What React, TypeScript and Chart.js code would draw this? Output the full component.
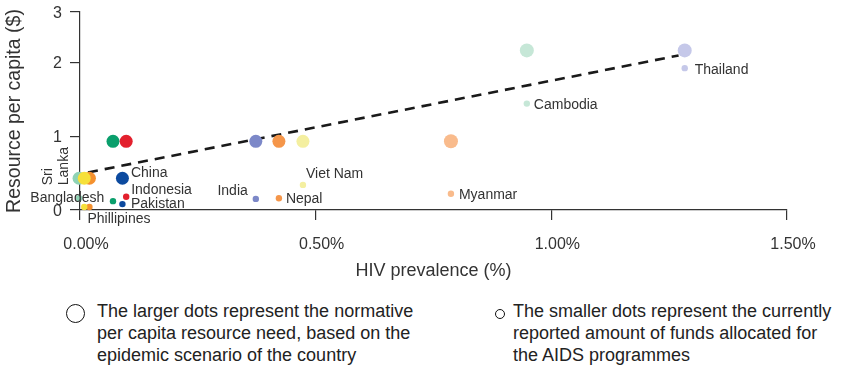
import React, { useEffect, useRef } from "react";
import { Chart, registerables } from "chart.js";

Chart.register(...registerables);

// ---------- data ----------
const COUNTRIES = [
  "Sri Lanka", "Phillipines", "Bangladesh", "China", "Pakistan", "Indonesia",
  "India", "Nepal", "Viet Nam", "Myanmar", "Cambodia", "Thailand",
];
// HIV prevalence (%)
const PREVALENCE = [-0.002, 0.02, 0.009, 0.09, 0.07, 0.098, 0.373, 0.422, 0.473, 0.787, 0.948, 1.283];
// normative per capita resource need ($) - larger dots
const NEED = [0.43, 0.43, 0.43, 0.43, 0.93, 0.93, 0.93, 0.93, 0.93, 0.93, 2.16, 2.16];
// currently reported funds per capita ($) - smaller dots
const FUNDS = [0.16, 0.04, 0.04, 0.08, 0.12, 0.18, 0.15, 0.16, 0.34, 0.22, 1.44, 1.92];

const X_TICK_VALUES = [0, 0.5, 1.0, 1.5];
const X_TICK_LABELS = ["0.00%", "0.50%", "1.00%", "1.50%"];
const Y_AXIS_TOP = 2.68; // top of the drawn axis, labelled "3" in the source
const Y_TICK_VALUES = [0, 1, 2, Y_AXIS_TOP];
const Y_TICK_LABELS = ["0", "1", "2", "3"];
const TREND_X_RANGE = [0.017, 1.27];

// ---------- styles ----------
const COLORS = [
  "#8fd3b5", "#f5912f", "#f6e03a", "#0c4a9f", "#0a9f6c", "#e3202d",
  "#7c88c8", "#f5964a", "#f4efa0", "#f9bb8c", "#c6e7d7", "#c5c8e9",
];
const BIG_RADIUS = [6.5, 6.5, 6.5, 6.5, 6.5, 6.5, 6.5, 6.5, 6.5, 7, 7, 7];
// label placement: anchor dot, pixel offset, alignment
const LABEL_POS: { anchor: "big" | "small"; dx: number; dy: number; align: "left" | "right"; rotated?: boolean }[] = [
  { anchor: "big", dx: -31, dy: 7, align: "left", rotated: true },
  { anchor: "small", dx: -2, dy: 12, align: "left" },
  { anchor: "small", dx: 20, dy: -9, align: "right" },
  { anchor: "big", dx: 8.5, dy: -5, align: "left" },
  { anchor: "small", dx: 18, dy: 3.5, align: "left" },
  { anchor: "small", dx: 5, dy: -7, align: "left" },
  { anchor: "small", dx: -8, dy: -8, align: "right" },
  { anchor: "small", dx: 7, dy: 1, align: "left" },
  { anchor: "small", dx: 3, dy: -11, align: "left" },
  { anchor: "small", dx: 8, dy: 1, align: "left" },
  { anchor: "small", dx: 7, dy: 2, align: "left" },
  { anchor: "small", dx: 10, dy: 1.5, align: "left" },
];

const FONT = '"Liberation Sans", Arial, Helvetica, sans-serif';
const TEXT = "#333";

function linearFit(xs: number[], ys: number[]) {
  const n = xs.length;
  const mx = xs.reduce((a, b) => a + b, 0) / n;
  const my = ys.reduce((a, b) => a + b, 0) / n;
  let sxy = 0, sxx = 0;
  for (let i = 0; i < n; i++) {
    sxy += (xs[i] - mx) * (ys[i] - my);
    sxx += (xs[i] - mx) * (xs[i] - mx);
  }
  const slope = sxy / sxx;
  return { slope, intercept: my - slope * mx };
}

const labelPlugin = {
  id: "countryLabels",
  afterDatasetsDraw(chart: any) {
    const big = chart.getDatasetMeta(1).data;
    const small = chart.getDatasetMeta(2).data;
    const ctx = chart.ctx;
    ctx.save();
    ctx.fillStyle = TEXT;
    ctx.font = `14px ${FONT}`;
    ctx.textBaseline = "middle";
    COUNTRIES.forEach((name, i) => {
      const p = LABEL_POS[i];
      const el = p.anchor === "big" ? big[i] : small[i];
      const x = el.x + p.dx;
      const y = el.y + p.dy;
      if (p.rotated) {
        ctx.save();
        ctx.translate(x, y);
        ctx.rotate(-Math.PI / 2);
        ctx.textAlign = "left";
        name.split(" ").forEach((w, k) => ctx.fillText(w, 0, k * 16));
        ctx.restore();
      } else {
        ctx.textAlign = p.align;
        ctx.fillText(name, x, y);
      }
    });
    ctx.restore();
  },
};

export default function App() {
  const ref = useRef<HTMLCanvasElement>(null);

  useEffect(() => {
    if (!ref.current) return;
    const fit = linearFit(PREVALENCE, NEED);
    const trend = TREND_X_RANGE.map((x) => ({ x, y: fit.intercept + fit.slope * x }));
    const axisCommon = {
      grid: { drawOnChartArea: false, drawTicks: true, tickLength: 10, color: "#333", lineWidth: 1.2 },
      border: { display: true, color: "#333", width: 1.2 },
    };
    const chart = new Chart(ref.current, {
      type: "scatter",
      data: {
        datasets: [
          {
            type: "line",
            label: "trend",
            data: trend,
            borderColor: "#1a1a1a",
            borderWidth: 2.6,
            borderDash: [10, 7],
            pointRadius: 0,
            fill: false,
            order: 3,
            clip: false,
          } as any,
          {
            label: "Normative resource need",
            data: PREVALENCE.map((x, i) => ({ x, y: NEED[i] })),
            backgroundColor: COLORS,
            borderWidth: 0,
            pointRadius: BIG_RADIUS,
            order: 2,
            clip: false,
          },
          {
            label: "Reported funds",
            data: PREVALENCE.map((x, i) => ({ x, y: FUNDS[i] })),
            backgroundColor: COLORS,
            borderWidth: 0,
            pointRadius: 3.2,
            order: 1,
            clip: false,
          },
        ],
      },
      options: {
        responsive: false,
        animation: false,
        layout: { padding: { top: 12, right: 64, bottom: 0, left: 0 } },
        plugins: { legend: { display: false }, tooltip: { enabled: false } },
        scales: {
          x: {
            type: "linear",
            min: 0,
            max: 1.5,
            afterBuildTicks: (s: any) => {
              s.ticks = X_TICK_VALUES.map((v) => ({ value: v }));
            },
            afterFit: (s: any) => {
              s.height = 80;
            },
            ticks: {
              callback: (_v: any, i: number) => X_TICK_LABELS[i],
              font: { family: FONT, size: 16 },
              color: TEXT,
              padding: 15,
              labelOffset: 6,
              maxRotation: 0,
              autoSkip: false,
            },
            title: {
              display: true,
              text: "HIV prevalence (%)",
              font: { family: FONT, size: 18 },
              color: TEXT,
              padding: { top: 0, bottom: 8 },
            },
            ...axisCommon,
          },
          y: {
            type: "linear",
            min: 0,
            max: Y_AXIS_TOP,
            afterBuildTicks: (s: any) => {
              s.ticks = Y_TICK_VALUES.map((v) => ({ value: v }));
            },
            afterFit: (s: any) => {
              s.width = 80;
              s.paddingTop = 0;
              s.paddingBottom = 0;
            },
            ticks: {
              callback: (_v: any, i: number) => Y_TICK_LABELS[i],
              font: { family: FONT, size: 16 },
              color: TEXT,
              padding: 8,
              labelOffset: 1.5,
              autoSkip: false,
            },
            title: {
              display: true,
              text: "Resource per capita ($)",
              font: { family: FONT, size: 19.5 },
              color: TEXT,
              padding: { top: 3.3, bottom: 0 },
            },
            ...axisCommon,
          },
        },
      } as any,
      plugins: [labelPlugin],
    });
    return () => chart.destroy();
  }, []);

  const noteText: React.CSSProperties = {
    position: "absolute",
    top: 300,
    font: `18px ${FONT}`,
    lineHeight: "22px",
    color: "#222",
    whiteSpace: "nowrap",
  };

  return (
    <div style={{ position: "absolute", left: 0, top: 0, width: 851, height: 366, background: "#fff" }}>
      <canvas ref={ref} width={851} height={290} style={{ position: "absolute", left: 0, top: 0 }} />
      <div
        style={{
          position: "absolute", left: 66, top: 304, width: 19, height: 19, borderRadius: "50%",
          border: "1.5px solid #111", boxSizing: "border-box",
        }}
      />
      <div style={{ ...noteText, left: 97 }}>
        The larger dots represent the normative
        <br />
        per capita resource need, based on the
        <br />
        epidemic scenario of the country
      </div>
      <div
        style={{
          position: "absolute", left: 495, top: 309, width: 10, height: 10, borderRadius: "50%",
          border: "1.2px solid #111", boxSizing: "border-box",
        }}
      />
      <div style={{ ...noteText, left: 513 }}>
        The smaller dots represent the currently
        <br />
        reported amount of funds allocated for
        <br />
        the AIDS programmes
      </div>
    </div>
  );
}
